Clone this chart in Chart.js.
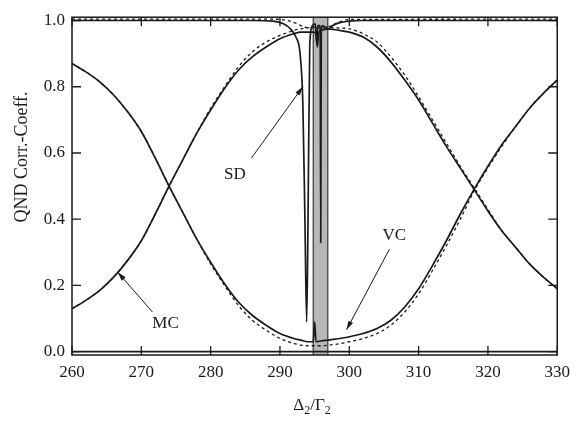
<!DOCTYPE html>
<html>
<head>
<meta charset="utf-8">
<script src="https://cdn.jsdelivr.net/npm/chart.js@4"></script>
<style>html,body{margin:0;padding:0;background:#fff;}canvas{display:block;}</style>
</head>
<body>
<canvas id="c" width="577" height="422"></canvas>
<script>
// ---- data ----
const xTicks = [260, 270, 280, 290, 300, 310, 320, 330];
const yTicks = [0, 0.2, 0.4, 0.6, 0.8, 1.0];

const mcX = [260,262,264,266,268,270,272,274,276,278,280,282,284,286,288,290,292,293,294,294.8,295.2,295.4,295.6,296.2,297,298,300,302,304,306,308,310,312,314,316,318,320,322,324,326,328,330];
const mcY = [0.13,0.155,0.185,0.225,0.275,0.335,0.415,0.50,0.58,0.66,0.73,0.795,0.85,0.89,0.92,0.945,0.96,0.965,0.965,0.965,0.96,0.92,0.965,0.972,0.975,0.972,0.965,0.95,0.92,0.875,0.82,0.76,0.69,0.62,0.555,0.49,0.425,0.365,0.315,0.265,0.225,0.19];
const mcDashY = [0.13,0.155,0.185,0.225,0.275,0.335,0.415,0.50,0.58,0.66,0.735,0.80,0.86,0.905,0.935,0.955,0.97,0.975,0.978,0.98,0.98,0.98,0.98,0.98,0.98,0.978,0.975,0.96,0.935,0.89,0.835,0.77,0.70,0.63,0.56,0.495,0.43,0.365,0.315,0.265,0.225,0.19];

const vcX = [260,262,264,266,268,270,272,274,276,278,280,282,284,286,288,290,292,293,294,294.8,295.0,295.2,296,297,298,300,302,304,306,308,310,312,314,316,318,320,322,324,326,328,330];
const vcY = [0.87,0.845,0.815,0.775,0.725,0.665,0.585,0.50,0.42,0.34,0.27,0.205,0.15,0.11,0.08,0.055,0.04,0.035,0.03,0.03,0.09,0.03,0.033,0.035,0.038,0.045,0.055,0.07,0.095,0.135,0.19,0.26,0.335,0.415,0.49,0.56,0.625,0.68,0.735,0.78,0.82];
const vcDashY = [0.87,0.845,0.815,0.775,0.725,0.665,0.585,0.50,0.42,0.34,0.265,0.20,0.14,0.095,0.065,0.04,0.025,0.02,0.018,0.018,0.018,0.018,0.018,0.02,0.022,0.03,0.04,0.055,0.08,0.12,0.175,0.245,0.32,0.40,0.485,0.555,0.62,0.68,0.735,0.78,0.82];

const sdX = [260,286,289,290.5,291.5,292.3,292.9,293.3,293.6,293.85,294.05,294.3,294.7,295.1,295.3,295.45,295.8,295.88,295.96,296.1,296.5,297,297.6,298.5,300,302,330];
const sdY = [1.0,1.0,0.998,0.99,0.975,0.95,0.9,0.75,0.4,0.09,0.4,0.93,0.985,0.99,0.93,0.985,0.985,0.33,0.97,0.985,0.98,0.975,0.985,0.993,0.998,1.0,1.0];

const sdDashX = [260,289,291,292.5,293.5,294.5,296.5,297.5,298.5,300,330];
const sdDashY = [1.004,1.004,1.0,0.99,0.98,0.978,0.978,0.985,0.995,1.003,1.004];

const zeroX = [260, 330];
const zeroY = [0, 0];

const bandX = [294.8, 294.8, 296.9, 296.9];
const bandY = [-0.01, 1.01, 1.01, -0.01];

// annotation labels (text + anchor in data units)
const noteText = ['SD', 'MC', 'VC'];
const notes = [
  {label: 283.5, labelY: 0.535, from: [285.9, 0.585], to: [293.3, 0.80]},
  {label: 273.5, labelY: 0.085, from: [271.6, 0.12], to: [266.6, 0.24]},
  {label: 306.5, labelY: 0.35, from: [305.8, 0.31], to: [299.6, 0.066]}
];
const yTitle = 'QND Corr.-Coeff.';
const xTitleParts = [['Δ', false], ['2', true], ['/Γ', false], ['2', true]];

const pts = (xs, ys) => xs.map((x, i) => ({x, y: ys[i]}));
const FONT = "'Liberation Serif', 'DejaVu Serif', serif";
const INK = '#1a1a1a';

function lineDs(label, xs, ys, dashed) {
  return {
    label, data: pts(xs, ys), showLine: true, pointRadius: 0,
    borderColor: INK, borderWidth: dashed ? 1.3 : 1.7,
    borderDash: dashed ? [3, 3] : [], fill: false,
    cubicInterpolationMode: 'monotone'
  };
}

const framePlugin = {
  id: 'frame',
  afterDraw(chart) {
    const {ctx, chartArea: a, scales} = chart;
    const xs = scales.x, ys = scales.y;
    ctx.save();
    ctx.strokeStyle = INK;
    ctx.lineWidth = 1.5;
    ctx.strokeRect(a.left, a.top, a.right - a.left, a.bottom - a.top);
    ctx.lineWidth = 1.3;
    const tl = 9;
    ctx.beginPath();
    xTicks.forEach(v => {
      const p = xs.getPixelForValue(v);
      ctx.moveTo(p, a.bottom); ctx.lineTo(p, a.bottom - tl);
      ctx.moveTo(p, a.top); ctx.lineTo(p, a.top + tl);
    });
    yTicks.forEach(v => {
      const p = ys.getPixelForValue(v);
      ctx.moveTo(a.left, p); ctx.lineTo(a.left + tl, p);
      ctx.moveTo(a.right, p); ctx.lineTo(a.right - tl, p);
    });
    ctx.stroke();

    // annotations
    ctx.fillStyle = INK;
    ctx.font = '17px ' + FONT;
    ctx.textAlign = 'center';
    ctx.textBaseline = 'middle';
    notes.forEach((n, i) => {
      ctx.fillText(noteText[i], xs.getPixelForValue(n.label), ys.getPixelForValue(n.labelY));
      const x1 = xs.getPixelForValue(n.from[0]), y1 = ys.getPixelForValue(n.from[1]);
      const x2 = xs.getPixelForValue(n.to[0]), y2 = ys.getPixelForValue(n.to[1]);
      ctx.lineWidth = 1;
      ctx.beginPath(); ctx.moveTo(x1, y1); ctx.lineTo(x2, y2); ctx.stroke();
      const ang = Math.atan2(y2 - y1, x2 - x1), L = 9, W = 2.6;
      ctx.beginPath();
      ctx.moveTo(x2, y2);
      ctx.lineTo(x2 - L * Math.cos(ang) + W * Math.sin(ang), y2 - L * Math.sin(ang) - W * Math.cos(ang));
      ctx.lineTo(x2 - L * Math.cos(ang) - W * Math.sin(ang), y2 - L * Math.sin(ang) + W * Math.cos(ang));
      ctx.closePath(); ctx.fill();
    });

    // y axis title
    ctx.save();
    ctx.translate(22, 157);
    ctx.rotate(-Math.PI / 2);
    ctx.font = '18px ' + FONT;
    ctx.fillText(yTitle, 0, 0);
    ctx.restore();

    // x axis title with subscripts
    ctx.textAlign = 'left';
    ctx.textBaseline = 'alphabetic';
    const big = '17px ' + FONT, small = '12px ' + FONT;
    let total = 0;
    xTitleParts.forEach(([t, sub]) => { ctx.font = sub ? small : big; total += ctx.measureText(t).width; });
    let cx = 312 - total / 2;
    const base = 410;
    xTitleParts.forEach(([t, sub]) => {
      ctx.font = sub ? small : big;
      ctx.fillText(t, cx, sub ? base + 4 : base);
      cx += ctx.measureText(t).width;
    });
    ctx.restore();
  }
};

new Chart(document.getElementById('c'), {
  type: 'scatter',
  data: {
    datasets: [
      lineDs('MC', mcX, mcY, false),
      lineDs('MC (dashed)', mcX, mcDashY, true),
      lineDs('VC', vcX, vcY, false),
      lineDs('VC (dashed)', vcX, vcDashY, true),
      lineDs('SD', sdX, sdY, false),
      lineDs('SD (dashed)', sdDashX, sdDashY, true),
      lineDs('zero', zeroX, zeroY, false),
      {
        label: 'band', data: pts(bandX, bandY), showLine: true, pointRadius: 0,
        borderColor: '#333', borderWidth: 1.2, backgroundColor: '#b8b8b8',
        fill: 'start', tension: 0
      }
    ]
  },
  options: {
    responsive: false,
    animation: false,
    layout: {padding: {top: 13, right: 15, left: 0, bottom: 0}},
    plugins: {legend: {display: false}, tooltip: {enabled: false}},
    scales: {
      x: {
        type: 'linear', min: 260, max: 330,
        grid: {display: false, drawTicks: false},
        border: {display: false},
        afterBuildTicks: s => { s.ticks = xTicks.map(v => ({value: v})); },
        afterFit: s => { s.height = 67; },
        ticks: {color: INK, padding: 7, font: {family: FONT, size: 17}, maxRotation: 0},
        title: {display: false}
      },
      y: {
        type: 'linear', min: -0.01, max: 1.01,
        grid: {display: false, drawTicks: false},
        border: {display: false},
        afterBuildTicks: s => { s.ticks = yTicks.map(v => ({value: v})); },
        afterFit: s => { s.width = 72; },
        ticks: {color: INK, padding: 7, font: {family: FONT, size: 17}, callback: v => Number(v).toFixed(1)}
      }
    }
  },
  plugins: [framePlugin]
});
</script>
</body>
</html>
